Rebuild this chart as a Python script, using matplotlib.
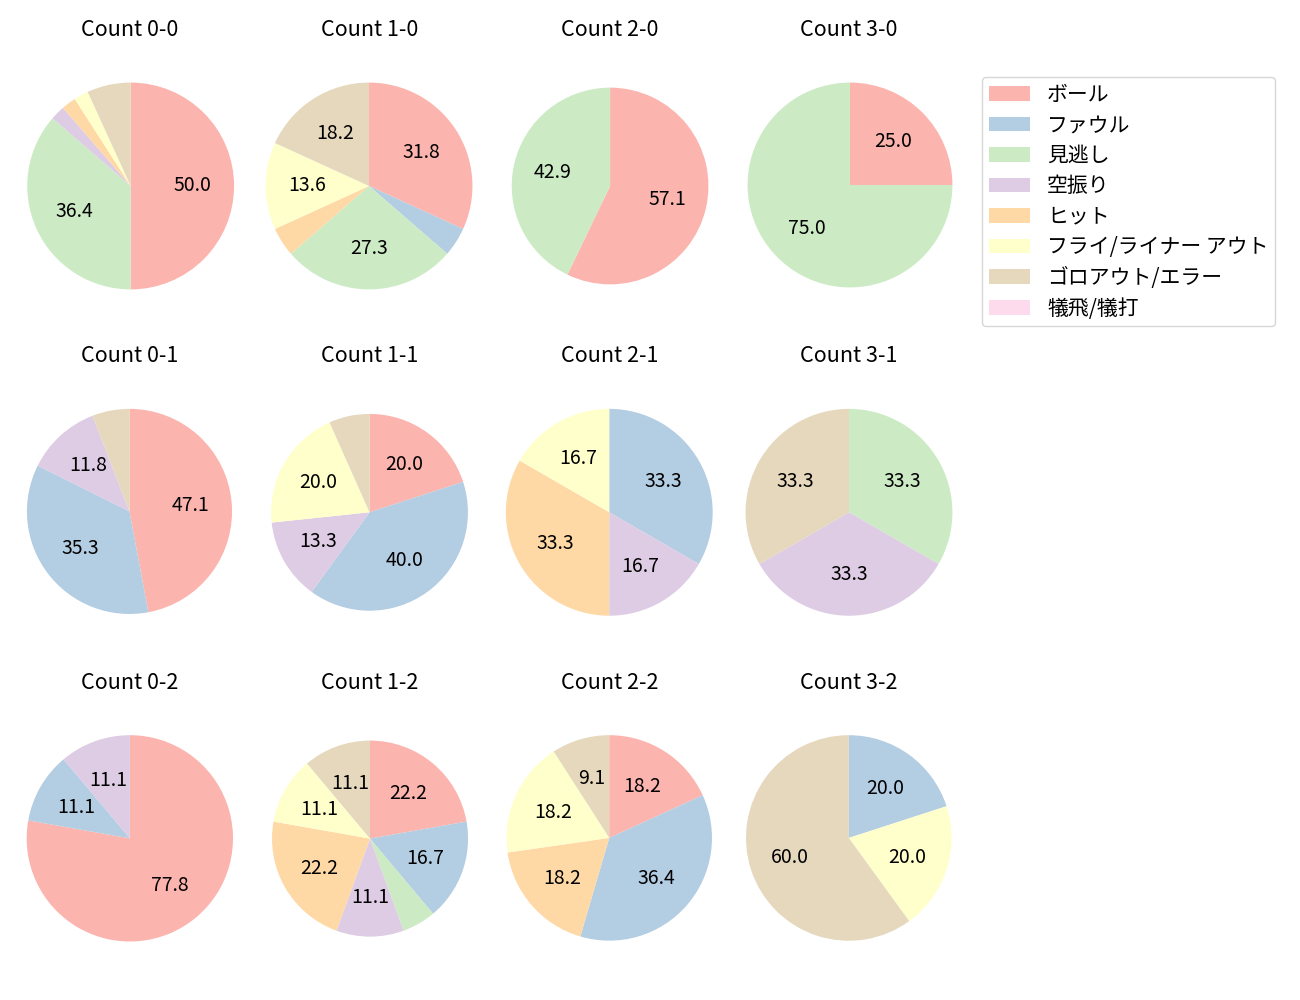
import numpy as np
import matplotlib
matplotlib.use("Agg")
from matplotlib import pyplot as plt
from matplotlib.patches import Patch

plt.rcParams['font.family'] = ['Noto Sans CJK JP', 'DejaVu Sans']
plt.rcParams['font.size'] = 14

# result categories, in legend order
categories = ["ボール", "ファウル", "見逃し", "空振り", "ヒット",
              "フライ/ライナー アウト", "ゴロアウト/エラー", "犠飛/犠打"]

# pitch counts per result, rows = strikes, columns = balls
count_0_0 = [22, 0, 16, 1, 1, 1, 3, 0]
count_1_0 = [7, 1, 6, 0, 1, 3, 4, 0]
count_2_0 = [4, 0, 3, 0, 0, 0, 0, 0]
count_3_0 = [1, 0, 3, 0, 0, 0, 0, 0]
count_0_1 = [8, 6, 0, 2, 0, 0, 1, 0]
count_1_1 = [3, 6, 0, 2, 0, 3, 1, 0]
count_2_1 = [0, 2, 0, 1, 2, 1, 0, 0]
count_3_1 = [0, 0, 1, 1, 0, 0, 1, 0]
count_0_2 = [7, 1, 0, 1, 0, 0, 0, 0]
count_1_2 = [4, 3, 1, 2, 4, 2, 2, 0]
count_2_2 = [2, 4, 0, 0, 2, 2, 1, 0]
count_3_2 = [0, 1, 0, 0, 0, 1, 3, 0]

grid = [[count_0_0, count_1_0, count_2_0, count_3_0],
        [count_0_1, count_1_1, count_2_1, count_3_1],
        [count_0_2, count_1_2, count_2_2, count_3_2]]

colors = plt.get_cmap('Pastel1').colors[:len(categories)]

# cell aspect of the default subplot grid (used for the first aspect pass)
A0 = (1000 * 0.77 / 3.4) / (1300 * 0.775 / 4.6)


def pct_label(p):
    return f"{p:.1f}" if p >= 8 else ""


def fit_limits(ax, wedges):
    # old-style autoscale: limits from every path vertex (incl. bezier
    # control points), 5% margins, then one 'datalim' equal-aspect pass
    pts = np.vstack([w.get_patch_transform().transform(w.get_path().vertices)
                     for w in wedges])
    x0, y0 = pts.min(axis=0)
    x1, y1 = pts.max(axis=0)
    ex, ey = x1 - x0, y1 - y0
    cx, cy = (x0 + x1) / 2, (y0 + y1) / 2
    xsize, ysize = 1.1 * ex, 1.1 * ey
    y_exp = A0 * xsize / ysize - 1
    if abs(y_exp) >= 0.005:
        xr, yr = 1.05 * ex, 1.05 * ey
        Xsize, Ysize = ysize / A0, A0 * xsize
        if xsize - xr > 0 and ysize - yr > 0:
            adjy = (Ysize - yr > 0 and y_exp < 0) or (Xsize - xr < 0 and y_exp > 0)
        else:
            adjy = y_exp > 0
        if adjy:
            ysize = Ysize
        else:
            xsize = Xsize
    ax.set_xlim(cx - xsize / 2, cx + xsize / 2)
    ax.set_ylim(cy - ysize / 2, cy + ysize / 2)
    ax.set_aspect('equal', adjustable='datalim')


fig, axes = plt.subplots(3, 4, figsize=(13, 10), dpi=100)
fig.subplots_adjust(left=0.0152, right=0.7377, top=0.9557, bottom=0.0197,
                    wspace=0.0895, hspace=0.1514)

for strikes in range(3):
    for balls in range(4):
        ax = axes[strikes, balls]
        wedges, texts, autotexts = ax.pie(grid[strikes][balls], colors=colors,
                                          startangle=90, counterclock=False,
                                          autopct=pct_label,
                                          textprops={'fontsize': 14})
        fit_limits(ax, wedges)
        ax.set_title(f"Count {balls}-{strikes}", fontsize=15.5)

handles = [Patch(facecolor=c, label=lab) for c, lab in zip(colors, categories)]
fig.legend(handles=handles, loc='upper left',
           bbox_to_anchor=(982 / 1300, 1 - 77 / 1000), borderaxespad=0,
           fontsize=15, labelspacing=0.41, borderpad=0.32)

fig.savefig("out.png")
